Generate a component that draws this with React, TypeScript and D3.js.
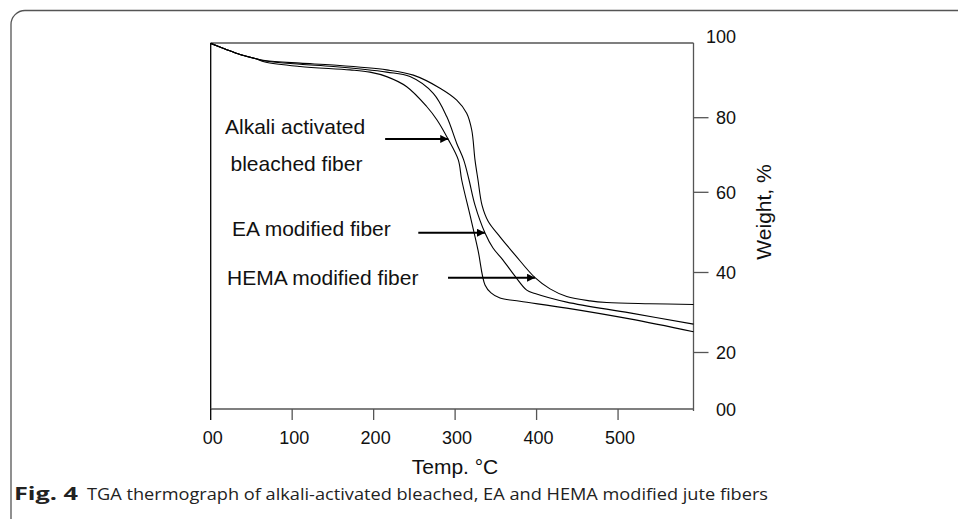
import React from "react";
import * as d3 from "d3";

// ---- data ----
const xTicks = [0, 100, 200, 300, 400, 500];
const xTickLabels = ["00", "100", "200", "300", "400", "500"];
const yTicks = [0, 20, 40, 60, 80, 100];
const yTickLabels = ["00", "20", "40", "60", "80", "100"];

const alkaliT = [0, 17.6, 36.0, 54.4, 66.6, 109.6, 171.0, 195.5, 216.0, 240.6, 265.1, 277.8, 291.3, 303.9, 308.1, 318.3, 328.1, 336.7, 344.1, 355.1, 379.7, 437.0, 514.4, 592.6];
const alkaliW = [99.9, 98.4, 96.9, 95.85, 94.9, 93.7, 92.8, 92.2, 91.0, 88.3, 83.0, 79.4, 74.3, 68.7, 63.3, 54.3, 45.6, 36.9, 34.9, 33.6, 32.8, 31.1, 28.4, 25.2];

const eaT = [0, 17.6, 36.0, 54.4, 66.6, 109.6, 150.5, 216.0, 244.6, 273.2, 289.7, 302.0, 310.5, 317.1, 324.4, 336.7, 346.5, 358.8, 373.5, 387.9, 398.1, 437.0, 514.4, 592.6];
const eaW = [99.9, 98.4, 96.9, 95.85, 95.2, 94.3, 93.7, 92.2, 91.0, 86.5, 80.3, 73.1, 68.7, 63.3, 56.8, 49.85, 46.1, 43.1, 39.1, 35.6, 34.75, 32.6, 29.9, 27.1];

const hemaT = [0, 17.6, 36.0, 54.4, 66.6, 109.6, 150.5, 216.0, 248.7, 281.5, 302.0, 314.2, 320.4, 324.4, 328.1, 333.0, 340.7, 355.1, 373.5, 398.1, 416.5, 437.0, 465.6, 486.1, 538.8, 592.6];
const hemaW = [99.9, 98.4, 96.9, 95.85, 95.3, 94.6, 94.1, 92.8, 91.4, 87.9, 84.7, 81.2, 76.7, 68.7, 63.3, 56.8, 52.7, 48.9, 44.4, 38.7, 35.9, 34.0, 32.9, 32.5, 32.2, 32.0];

// annotation: label lines, arrow start temp, arrow tip temp, arrow weight
const annLabels = [["Alkali activated", "bleached fiber"], ["EA modified fiber"], ["HEMA modified fiber"]];
const annArrowFromT = [214.1, 254.8, 291.3];
const annArrowToT = [291.6, 336.7, 398.1];
const annArrowW = [74.3, 49.9, 38.7];

const W = 958;
const H = 519;

export default function App() {
  const x = d3.scaleLinear().domain([0, 592.6]).range([210.7, 693.5]);
  const y = d3.scaleLinear().domain(yTicks).range([409, 352.5, 272.5, 192.3, 117.7, 43]);
  const line = d3
    .line<[number, number]>()
    .x((d) => x(d[0]))
    .y((d) => y(d[1]))
    .curve(d3.curveCatmullRom.alpha(0.5));

  const series = [
    { t: alkaliT, w: alkaliW },
    { t: eaT, w: eaW },
    { t: hemaT, w: hemaW },
  ];

  const font = "'Liberation Sans', Arial, sans-serif";
  const axisColor = "#555";
  const x0 = x(0);
  const x1 = x(592.6);
  const yTop = y(100);
  const yBot = y(0);

  const labelPos = [
    { x: 225, ys: [134, 171] },
    { x: 232, ys: [236] },
    { x: 227, ys: [284.5] },
  ];

  return (
    <div style={{ position: "absolute", left: 0, top: 0, width: W, height: H, background: "#fff" }}>
      <svg width={W} height={H} style={{ display: "block" }}>
        <defs>
          <marker id="ah" viewBox="0 0 10 10" refX="10" refY="5" markerWidth="9" markerHeight="8" markerUnits="userSpaceOnUse" orient="auto">
            <path d="M0,0 L10,5 L0,10 z" fill="#000" />
          </marker>
        </defs>
        {/* outer rounded frame */}
        <rect x={11} y={10.5} width={W + 20} height={H + 20} rx={14} ry={14} fill="none" stroke="#555" strokeWidth={1.3} />

        {/* plot frame */}
        <line x1={x0} x2={x1} y1={yTop} y2={yTop} stroke={axisColor} strokeWidth={1.3} />
        <line x1={x0} x2={x0} y1={yTop} y2={yBot} stroke="#000" strokeWidth={1.3} />
        <line x1={x0} x2={x1} y1={yBot} y2={yBot} stroke={axisColor} strokeWidth={1.3} />
        <line x1={x1} x2={x1} y1={yTop} y2={yBot + 2} stroke={axisColor} strokeWidth={1.3} />

        {/* x ticks */}
        {xTicks.map((t, i) => (
          <g key={"xt" + i}>
            <line x1={x(t)} x2={x(t)} y1={yBot} y2={yBot + 11} stroke={i === 0 ? "#000" : axisColor} strokeWidth={1.3} />
            <text x={x(t) + 2} y={444} textAnchor="middle" fontFamily={font} fontSize={18} fill="#111">
              {xTickLabels[i]}
            </text>
          </g>
        ))}

        {/* y ticks (right) */}
        {yTicks.map((t, i) => (
          <g key={"yt" + i}>
            {t !== 0 && t !== 100 && (
              <line x1={x1} x2={x1 + 15} y1={y(t)} y2={y(t)} stroke={axisColor} strokeWidth={1.3} />
            )}
            <text x={736} y={y(t) + (t === 100 ? 0 : 6.5)} textAnchor="end" fontFamily={font} fontSize={18} fill="#111">
              {yTickLabels[i]}
            </text>
          </g>
        ))}

        {/* axis titles */}
        <text x={455} y={474} textAnchor="middle" fontFamily={font} fontSize={21} fill="#111">
          Temp. °C
        </text>
        <text
          transform={`translate(771,212) rotate(-90)`}
          textAnchor="middle"
          fontFamily={font}
          fontSize={21}
          fill="#111"
        >
          Weight, %
        </text>

        {/* curves */}
        {series.map((s, i) => (
          <path
            key={"s" + i}
            d={line(s.t.map((t, j) => [t, s.w[j]] as [number, number])) || ""}
            fill="none"
            stroke="#000"
            strokeWidth={1.1}
          />
        ))}

        {/* annotations */}
        {annLabels.map((lines, i) => (
          <g key={"a" + i}>
            {lines.map((l, k) => (
              <text key={k} x={labelPos[i].x + (k === 1 ? 5.5 : 0)} y={labelPos[i].ys[k]} fontFamily={font} fontSize={21} fill="#111">
                {l}
              </text>
            ))}
            <line
              x1={x(annArrowFromT[i])}
              x2={x(annArrowToT[i])}
              y1={y(annArrowW[i])}
              y2={y(annArrowW[i])}
              stroke="#000"
              strokeWidth={2}
              markerEnd="url(#ah)"
            />
          </g>
        ))}

        {/* caption */}
        <text x={14} y={500} fontFamily="'Liberation Sans Narrow', 'Open Sans', sans-serif" fontSize={17} fontWeight="bold" fill="#222" textLength={64} lengthAdjust="spacingAndGlyphs">
          Fig. 4
        </text>
        <text x={87} y={500} fontFamily="'Liberation Sans Narrow', 'Open Sans', sans-serif" fontSize={17} fill="#222" textLength={681} lengthAdjust="spacingAndGlyphs">
          TGA thermograph of alkali-activated bleached, EA and HEMA modified jute fibers
        </text>
      </svg>
    </div>
  );
}
